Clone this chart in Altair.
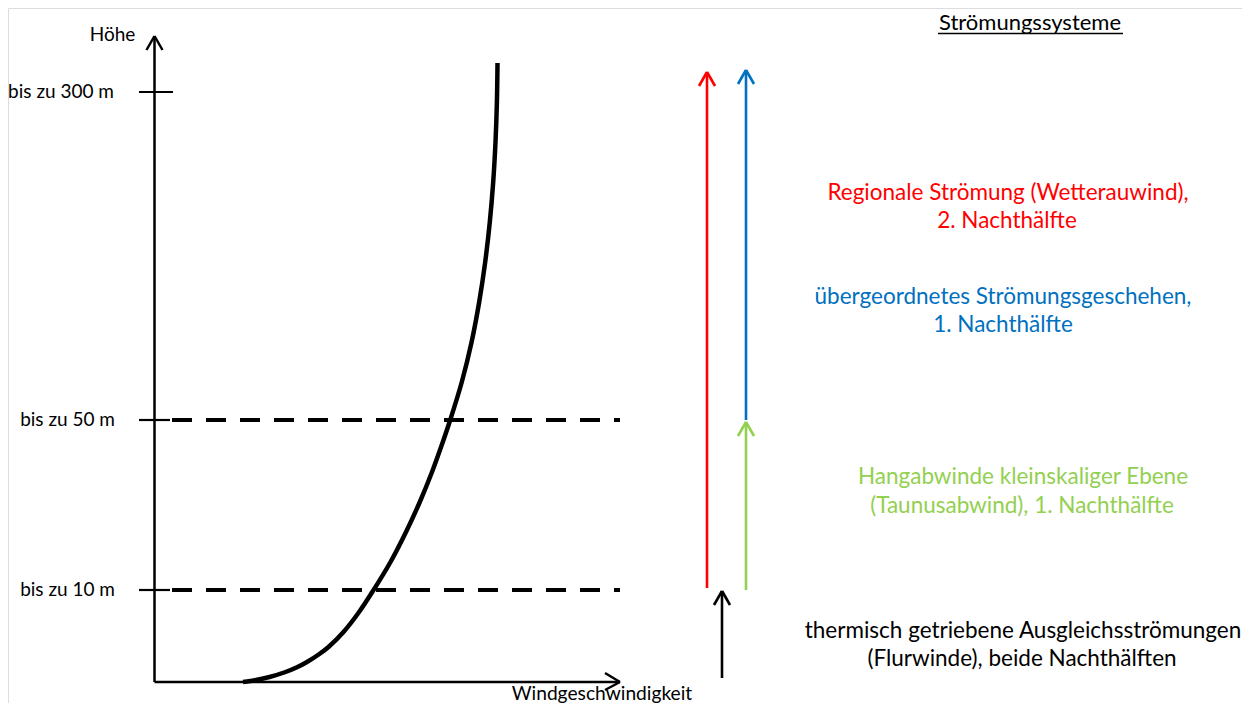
import altair as alt
import pandas as pd

# ---- diagram data (schematic units) ----
level_labels = ["bis zu 300 m", "bis zu 50 m", "bis zu 10 m"]
level_y = [92, 420, 590]

axis_x0, axis_y0 = 154.5, 682
axis_y_top = 36
axis_x_right = 620

# wind profile (speed vs. height)
profile_h = [0, 2, 5, 10, 15, 20, 28, 35, 50, 70, 90, 120, 150, 180, 210, 240, 262, 300, 340, 380, 420, 460, 500, 540, 580, 619]
profile_x = [243, 256, 269.5, 285.5, 297.5, 307, 319.4, 328.5, 343.5, 359.1, 372.3, 390.5, 406, 419.8, 432, 442.8, 450.2, 461.8, 471.6, 479.2, 485.2, 489.8, 493.2, 495.5, 496.9, 497.5]

# flow-system arrows
arrow_x = [707, 746, 746, 722]
arrow_from = [588, 420, 590, 678]
arrow_to = [72, 70, 422, 591]
arrow_col = ["#FF0000", "#0070C0", "#92D050", "#000000"]

legend_lines = [
    "Regionale Strömung (Wetterauwind),", "2. Nachthälfte",
    "übergeordnetes Strömungsgeschehen,", "1. Nachthälfte",
    "Hangabwinde kleinskaliger Ebene", "(Taunusabwind), 1. Nachthälfte",
    "thermisch getriebene Ausgleichsströmungen", "(Flurwinde), beide Nachthälften",
]
legend_x = [1008, 1007, 1003, 1003, 1023, 1022, 1023, 1022]
legend_y = [193, 221, 297, 325, 477, 506, 631, 659]
legend_col = ["#FF0000", "#FF0000", "#0070C0", "#0070C0", "#92D050", "#92D050", "#000000", "#000000"]

FONT = "Lato"

# ---- build segment tables ----
segs = []
def seg(x, y, x2, y2, c="#000000", w=2.5):
    segs.append(dict(x=x, y=y, x2=x2, y2=y2, c=c, w=w))

# axes
seg(axis_x0, axis_y0, axis_x0, axis_y_top, w=2.5)
seg(axis_x0, axis_y0, axis_x_right, axis_y0, w=2.5)
seg(axis_x0 - 8, axis_y_top + 14, axis_x0, axis_y_top, w=2.5)
seg(axis_x0 + 8, axis_y_top + 14, axis_x0, axis_y_top, w=2.5)
seg(axis_x_right - 15, axis_y0 - 9, axis_x_right, axis_y0, w=2.5)
seg(axis_x_right - 15, axis_y0 + 8, axis_x_right, axis_y0, w=2.5)
# level ticks
for i, ly in enumerate(level_y):
    seg(139, ly, 173 if i == 0 else 170, ly, w=2.2)
# arrows
for ax, a0, a1, col in zip(arrow_x, arrow_from, arrow_to, arrow_col):
    seg(ax, a0, ax, a1, c=col, w=2.6)
    seg(ax - 8, a1 + 14, ax, a1, c=col, w=2.6)
    seg(ax + 8, a1 + 14, ax, a1, c=col, w=2.6)
# underline of title
seg(938, 33.5, 1123, 33.5, w=1.6)

seg_df = pd.DataFrame(segs)
dash_df = pd.DataFrame(dict(x=[172, 172], x2=[620, 620], y=level_y[1:]))
prof_df = pd.DataFrame(dict(x=profile_x, y=[axis_y0 - h for h in profile_h], i=range(len(profile_x))))
lvl_df = pd.DataFrame(dict(t=level_labels, x=[114, 115, 115], y=level_y))
leg_df = pd.DataFrame(dict(t=legend_lines, x=legend_x, y=legend_y, c=legend_col))

xs = alt.Scale(domain=[8, 1242], nice=False, zero=False)
ys = alt.Scale(domain=[8, 703], nice=False, zero=False, reverse=True)

def X(f="x"):
    return alt.X(f"{f}:Q", scale=xs, axis=None)

def Y(f="y"):
    return alt.Y(f"{f}:Q", scale=ys, axis=None)

rules = alt.Chart(seg_df).mark_rule(strokeCap="butt").encode(
    x=X(), y=Y(), x2="x2:Q", y2="y2:Q",
    color=alt.Color("c:N", scale=None),
    strokeWidth=alt.StrokeWidth("w:Q", scale=None),
)

dashes = alt.Chart(dash_df).mark_rule(strokeDash=[20, 14], strokeWidth=4, color="#000000").encode(
    x=X(), x2="x2:Q", y=Y()
)

profile = alt.Chart(prof_df).mark_line(interpolate="catmull-rom", strokeWidth=4.5, color="#000000").encode(
    x=X(), y=Y(), order="i:Q"
)

lvl_text = alt.Chart(lvl_df).mark_text(align="right", baseline="middle", font=FONT, fontSize=19, color="#000000").encode(
    x=X(), y=Y(), text="t:N"
)

leg_text = alt.Chart(leg_df).mark_text(align="center", baseline="middle", font=FONT, fontSize=22.5).encode(
    x=X(), y=Y(), text="t:N", color=alt.Color("c:N", scale=None)
)

misc_df = pd.DataFrame(dict(t=["Höhe", "Windgeschwindigkeit", "Strömungssysteme"],
                            x=[112.5, 602, 1030], y=[35, 694, 23], s=[19, 19.2, 22]))
misc_text = alt.Chart(misc_df).mark_text(align="center", baseline="middle", font=FONT, color="#000000").encode(
    x=X(), y=Y(), text="t:N", size=alt.Size("s:Q", scale=None)
)

chart = alt.layer(dashes, rules, profile, lvl_text, leg_text, misc_text).properties(
    width=1234, height=695, padding=0, autosize=alt.AutoSizeParams(type="none")
).configure_view(strokeWidth=0).configure(background="#ffffff")

chart.save("out.html", embed_options={"renderer": "svg", "actions": False})
